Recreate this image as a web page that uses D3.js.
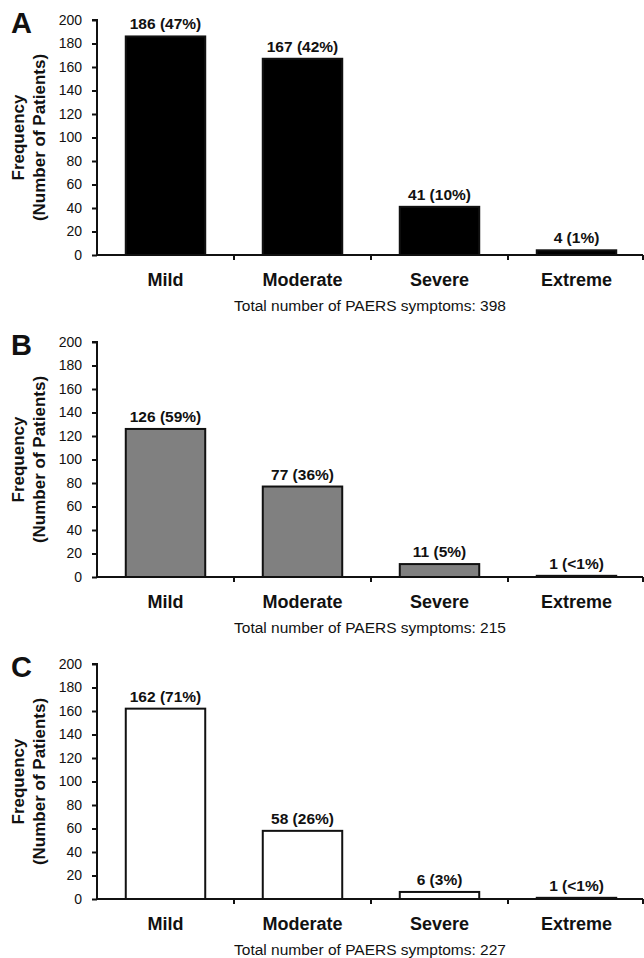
<!DOCTYPE html>
<html>
<head>
<meta charset="utf-8">
<script src="https://cdn.jsdelivr.net/npm/d3@7"></script>
<style>
  html, body { margin: 0; padding: 0; background: #fff; }
  svg text { font-family: "Liberation Sans", Arial, Helvetica, sans-serif; }
</style>
</head>
<body>
<svg id="chart" width="644" height="958"></svg>
<script>
// Severity categories shared by all three panels
const categories = ["Mild", "Moderate", "Severe", "Extreme"];

// Panel identifiers
const panelLetters = ["A", "B", "C"];

// Number of patients per severity category, one array per panel
const valuesA = [186, 167, 41, 4];
const valuesB = [126, 77, 11, 1];
const valuesC = [162, 58, 6, 1];

// Percent labels shown above each bar
const pctA = ["47%", "42%", "10%", "1%"];
const pctB = ["59%", "36%", "5%", "<1%"];
const pctC = ["71%", "26%", "3%", "<1%"];

// Totals reported under each panel
const totals = [398, 215, 227];

// Y axis ticks
const yTicks = [0, 20, 40, 60, 80, 100, 120, 140, 160, 180, 200];

const panels = [
  { letter: panelLetters[0], values: valuesA, pct: pctA, total: totals[0], fill: "#000000" },
  { letter: panelLetters[1], values: valuesB, pct: pctB, total: totals[1], fill: "#808080" },
  { letter: panelLetters[2], values: valuesC, pct: pctC, total: totals[2], fill: "#ffffff" }
];

const svg = d3.select("#chart");

const left = 97, right = 645;
const plotH = 235;
const firstTop = 20, panelStep = 322;

const x = d3.scaleBand()
  .domain(categories)
  .range([left, right])
  .paddingInner(0.42)
  .paddingOuter(0.21);

panels.forEach((p, i) => {
  const top = firstTop + i * panelStep;
  const zero = top + plotH;
  const y = d3.scaleLinear().domain([0, 200]).range([zero, top]);
  const g = svg.append("g");

  // bars
  g.selectAll("rect.bar")
    .data(categories)
    .join("rect")
    .attr("class", "bar")
    .attr("x", d => x(d))
    .attr("width", x.bandwidth())
    .attr("y", (d, k) => y(p.values[k]))
    .attr("height", (d, k) => zero - y(p.values[k]))
    .attr("fill", p.fill)
    .attr("stroke", "#111")
    .attr("stroke-width", 2);

  // value labels
  g.selectAll("text.val")
    .data(categories)
    .join("text")
    .attr("class", "val")
    .attr("x", d => x(d) + x.bandwidth() / 2)
    .attr("y", (d, k) => y(p.values[k]) - 7)
    .attr("text-anchor", "middle")
    .attr("font-size", "15.5px")
    .attr("font-weight", "bold")
    .attr("fill", "#111")
    .text((d, k) => `${p.values[k]} (${p.pct[k]})`);

  // y axis
  const yAxis = d3.axisLeft(y).tickValues(yTicks).tickSize(5).tickPadding(10);
  const ya = g.append("g").attr("transform", `translate(${left},0)`).call(yAxis);
  ya.select(".domain").attr("stroke", "#111").attr("stroke-width", 2).attr("d", `M-5,${top}H0V${zero}`);
  ya.selectAll(".tick line").attr("stroke", "#111").attr("stroke-width", 2);
  ya.selectAll(".tick text")
    .attr("font-size", "14px")
    .attr("fill", "#111")
    .attr("font-family", "\"Liberation Sans\", Arial, sans-serif");

  // x axis: baseline with ticks at category boundaries
  const step = x.step();
  const bounds = d3.range(categories.length + 1).map(k => left + k * step);
  g.append("line")
    .attr("x1", left).attr("x2", bounds[bounds.length - 1] - 2)
    .attr("y1", zero).attr("y2", zero)
    .attr("stroke", "#111").attr("stroke-width", 2);
  g.selectAll("line.xt")
    .data(bounds.slice(1))
    .join("line")
    .attr("class", "xt")
    .attr("x1", d => Math.min(d, 643)).attr("x2", d => Math.min(d, 643))
    .attr("y1", zero).attr("y2", zero + 5)
    .attr("stroke", "#111").attr("stroke-width", 2);

  // category labels
  g.selectAll("text.cat")
    .data(categories)
    .join("text")
    .attr("class", "cat")
    .attr("x", d => x(d) + x.bandwidth() / 2)
    .attr("y", zero + 31)
    .attr("text-anchor", "middle")
    .attr("font-size", "18px")
    .attr("font-weight", "bold")
    .attr("fill", "#111")
    .text(d => d);

  // total caption
  g.append("text")
    .attr("x", (left + 643) / 2)
    .attr("y", zero + 56)
    .attr("text-anchor", "middle")
    .attr("font-size", "15.5px")
    .attr("fill", "#111")
    .text(`Total number of PAERS symptoms: ${p.total}`);

  // y axis title (two lines)
  const midY = (top + zero) / 2;
  const yt = g.append("text")
    .attr("transform", `translate(0,${midY}) rotate(-90)`)
    .attr("text-anchor", "middle")
    .attr("font-size", "17px")
    .attr("font-weight", "bold")
    .attr("fill", "#111");
  yt.append("tspan").attr("x", 0).attr("y", 24).text("Frequency");
  yt.append("tspan").attr("x", 0).attr("y", 45).text("(Number of Patients)");

  // panel letter
  g.append("text")
    .attr("x", 11)
    .attr("y", top + 13)
    .attr("font-size", "29px")
    .attr("font-weight", "bold")
    .attr("fill", "#111")
    .text(p.letter);
});
</script>
</body>
</html>
